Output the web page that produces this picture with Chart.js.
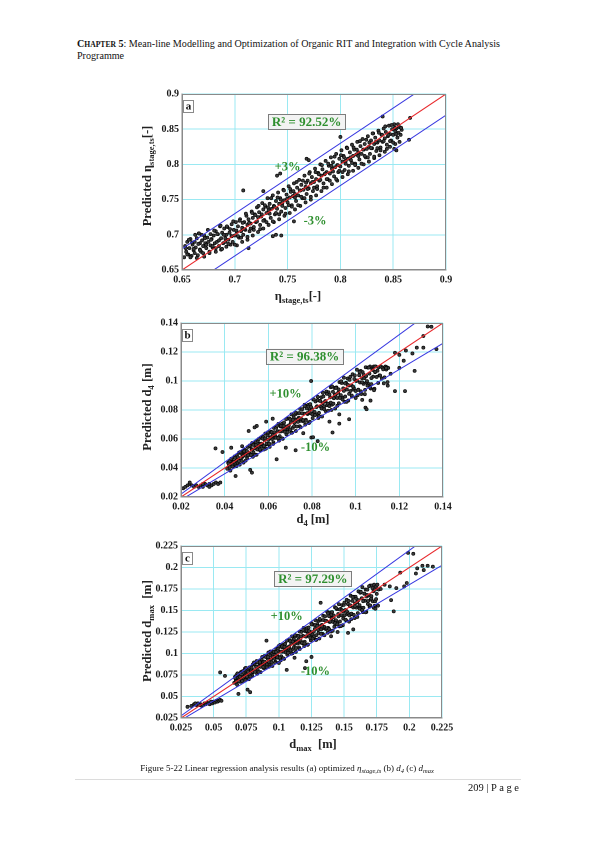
<!DOCTYPE html>
<html><head><meta charset="utf-8">
<script src="https://cdn.jsdelivr.net/npm/chart.js@4.4.1/dist/chart.umd.min.js"></script>
<style>
html,body{margin:0;padding:0;background:#fff;}
body{width:595px;height:842px;position:relative;overflow:hidden;font-family:"Liberation Serif","Times New Roman",serif;color:#111;}
.abs{position:absolute;white-space:nowrap;}
.box{position:absolute;}
.ttl{position:absolute;white-space:nowrap;font-weight:bold;font-size:12.5px;line-height:14px;transform:translate(-50%,-50%);color:#222;}
.rot{transform:translate(-50%,-50%) rotate(-90deg);}
.sb{font-size:8.5px;position:relative;top:3px;}
.cs{font-size:6.5px;position:relative;top:2px;}
</style>
</head><body>

<div class="abs" style="left:77px;top:38px;font-size:10.1px;line-height:11px;">
<b>C<span style="font-size:7.6px">HAPTER</span> 5</b>: Mean-line Modelling and Optimization of Organic RIT and Integration with Cycle Analysis<br>Programme</div>

<div class="box" style="left:125px;top:85px;width:340px;height:222px;"><canvas id="ca" width="340" height="222"></canvas></div>
<div class="box" style="left:125px;top:314px;width:340px;height:222px;"><canvas id="cb" width="340" height="222"></canvas></div>
<div class="box" style="left:125px;top:537px;width:340px;height:222px;"><canvas id="cc" width="340" height="222"></canvas></div>

<div class="ttl rot" style="left:147px;top:176px;">Predicted η<span class="sb">stage,ts</span>[-]</div>
<div class="ttl" style="left:298px;top:296px;">η<span class="sb">stage,ts</span>[-]</div>
<div class="ttl rot" style="left:147px;top:407px;">Predicted d<span class="sb">4</span> [m]</div>
<div class="ttl" style="left:313px;top:519px;">d<span class="sb">4</span> [m]</div>
<div class="ttl rot" style="left:147px;top:631px;">Predicted d<span class="sb">max</span> &nbsp;[m]</div>
<div class="ttl" style="left:313px;top:744px;">d<span class="sb">max</span> &nbsp;[m]</div>

<div class="abs" style="left:287px;top:768px;transform:translate(-50%,-50%);font-size:9px;">Figure 5-22 Linear regression analysis results (a) optimized <i>η<span class="cs">stage,ts</span></i> (b) <i>d<span class="cs">4</span></i> (c) <i>d<span class="cs">max</span></i></div>
<div class="abs" style="left:75px;top:779px;width:446px;height:1px;background:#dcdcdc;"></div>
<div class="abs" style="right:76px;top:782px;font-size:10.5px;">209 | P a g e</div>

<script>
// ---------- DATA ----------
// Panel (a): [actual eta_stage,ts, predicted eta_stage,ts]
const aPairs = [
[0.652,0.668],[0.653,0.684],[0.654,0.676],[0.655,0.690],[0.656,0.672],[0.657,0.681],
[0.658,0.694],[0.659,0.670],[0.660,0.686],[0.661,0.678],[0.662,0.690],[0.662,0.674],
[0.663,0.682],[0.664,0.695],[0.665,0.671],[0.666,0.702],[0.667,0.688],[0.667,0.679],
[0.668,0.676],[0.669,0.692],[0.670,0.684],[0.671,0.699],[0.671,0.669],[0.672,0.688],
[0.673,0.681],[0.674,0.696],[0.675,0.690],[0.676,0.676],[0.677,0.701],[0.677,0.685],
[0.678,0.694],[0.679,0.682],[0.680,0.699],[0.681,0.688],[0.682,0.676],[0.682,0.705],
[0.683,0.690],[0.684,0.701],[0.685,0.684],[0.686,0.712],[0.687,0.695],[0.687,0.679],
[0.688,0.703],[0.689,0.688],[0.690,0.709],[0.691,0.695],[0.692,0.683],[0.692,0.700],
[0.693,0.711],[0.694,0.693],[0.695,0.703],[0.696,0.686],[0.697,0.715],[0.697,0.698],
[0.698,0.690],[0.699,0.707],[0.700,0.699],[0.701,0.718],[0.702,0.685],[0.702,0.704],
[0.703,0.712],[0.704,0.696],[0.705,0.722],[0.706,0.705],[0.707,0.690],[0.707,0.710],
[0.708,0.700],[0.709,0.718],[0.710,0.707],[0.711,0.727],[0.712,0.693],[0.712,0.714],
[0.713,0.722],[0.714,0.705],[0.715,0.716],[0.716,0.733],[0.717,0.699],[0.717,0.724],
[0.718,0.711],[0.719,0.729],[0.720,0.718],[0.721,0.739],[0.722,0.704],[0.722,0.725],
[0.723,0.732],[0.724,0.714],[0.725,0.726],[0.726,0.745],[0.727,0.709],[0.727,0.736],
[0.728,0.721],[0.729,0.740],[0.730,0.731],[0.731,0.752],[0.732,0.714],[0.732,0.735],
[0.733,0.744],[0.734,0.724],[0.735,0.737],[0.736,0.756],[0.737,0.718],[0.737,0.741],
[0.738,0.729],[0.739,0.748],[0.740,0.737],[0.741,0.760],[0.742,0.722],[0.742,0.744],
[0.743,0.752],[0.744,0.733],[0.745,0.745],[0.746,0.764],[0.747,0.727],[0.747,0.749],
[0.748,0.738],[0.749,0.757],[0.750,0.746],[0.751,0.769],[0.752,0.731],[0.752,0.753],
[0.753,0.761],[0.754,0.742],[0.755,0.755],[0.756,0.773],[0.757,0.736],[0.757,0.758],
[0.758,0.748],[0.759,0.767],[0.760,0.756],[0.761,0.778],[0.762,0.741],[0.762,0.763],
[0.763,0.771],[0.764,0.752],[0.765,0.764],[0.766,0.784],[0.767,0.746],[0.767,0.768],
[0.768,0.758],[0.769,0.777],[0.770,0.766],[0.771,0.789],[0.772,0.750],[0.772,0.773],
[0.773,0.782],[0.774,0.762],[0.775,0.775],[0.776,0.794],[0.777,0.756],[0.777,0.779],
[0.778,0.769],[0.779,0.788],[0.780,0.777],[0.781,0.800],[0.782,0.762],[0.782,0.784],
[0.783,0.793],[0.784,0.773],[0.785,0.786],[0.786,0.805],[0.787,0.767],[0.787,0.789],
[0.788,0.779],[0.789,0.798],[0.790,0.787],[0.791,0.810],[0.792,0.772],[0.792,0.794],
[0.793,0.803],[0.794,0.783],[0.795,0.796],[0.796,0.815],[0.797,0.777],[0.797,0.799],
[0.798,0.789],[0.799,0.808],[0.800,0.797],[0.801,0.820],[0.802,0.782],[0.802,0.804],
[0.803,0.812],[0.804,0.792],[0.805,0.805],[0.806,0.824],[0.807,0.786],[0.807,0.808],
[0.808,0.798],[0.809,0.817],[0.810,0.806],[0.811,0.828],[0.812,0.791],[0.812,0.812],
[0.813,0.821],[0.814,0.801],[0.815,0.814],[0.816,0.832],[0.817,0.795],[0.817,0.817],
[0.818,0.807],[0.819,0.826],[0.820,0.815],[0.821,0.836],[0.822,0.800],[0.822,0.821],
[0.823,0.829],[0.824,0.810],[0.825,0.822],[0.826,0.840],[0.827,0.804],[0.827,0.825],
[0.828,0.815],[0.829,0.834],[0.830,0.823],[0.831,0.844],[0.832,0.809],[0.832,0.829],
[0.833,0.838],[0.834,0.819],[0.835,0.831],[0.836,0.848],[0.837,0.813],[0.837,0.834],
[0.838,0.824],[0.839,0.842],[0.840,0.832],[0.841,0.851],[0.842,0.818],[0.842,0.837],
[0.843,0.846],[0.844,0.828],[0.845,0.840],[0.846,0.855],[0.847,0.825],[0.847,0.843],
[0.848,0.834],[0.849,0.850],[0.850,0.842],[0.851,0.857],[0.852,0.829],[0.852,0.847],
[0.853,0.851],[0.854,0.838],[0.855,0.845],[0.856,0.853],[0.857,0.842],[0.858,0.849],
[0.6535,0.681],[0.6550,0.672],[0.6565,0.693],[0.6580,0.668],[0.6595,0.689],[0.6610,0.680],[0.6625,0.700],[0.6640,0.667],
[0.6655,0.687],[0.6670,0.678],[0.6685,0.700],[0.6700,0.674],[0.6715,0.695],[0.6730,0.686],[0.6745,0.707],[0.6760,0.674],
[0.6775,0.693],[0.6790,0.684],[0.6805,0.706],[0.6820,0.681],[0.6835,0.701],[0.6850,0.692],[0.6865,0.713],[0.6880,0.680],
[0.6895,0.700],[0.6910,0.690],[0.6925,0.712],[0.6940,0.687],[0.6955,0.708],[0.6970,0.698],[0.6985,0.719],[0.7000,0.686],
[0.7015,0.706],[0.7030,0.698],[0.7045,0.720],[0.7060,0.696],[0.7075,0.717],[0.7090,0.708],[0.7105,0.730],[0.7120,0.697],
[0.7135,0.717],[0.7150,0.709],[0.7165,0.731],[0.7180,0.707],[0.7195,0.728],[0.7210,0.719],[0.7225,0.741],[0.7240,0.708],
[0.7255,0.729],[0.7270,0.720],[0.7285,0.742],[0.7300,0.718],[0.7315,0.739],[0.7330,0.730],[0.7345,0.752],[0.7360,0.719],
[0.7375,0.740],[0.7390,0.731],[0.7405,0.753],[0.7420,0.729],[0.7435,0.750],[0.7450,0.741],[0.7465,0.763],[0.7480,0.730],
[0.7495,0.751],[0.7510,0.742],[0.7525,0.765],[0.7540,0.740],[0.7555,0.762],[0.7570,0.753],[0.7585,0.775],[0.7600,0.742],
[0.7615,0.763],[0.7630,0.754],[0.7645,0.777],[0.7660,0.752],[0.7675,0.774],[0.7690,0.765],[0.7705,0.787],[0.7720,0.754],
[0.7735,0.775],[0.7750,0.767],[0.7765,0.789],[0.7780,0.765],[0.7795,0.786],[0.7810,0.778],[0.7825,0.799],[0.7840,0.767],
[0.7855,0.787],[0.7870,0.779],[0.7885,0.801],[0.7900,0.777],[0.7915,0.798],[0.7930,0.790],[0.7945,0.811],[0.7960,0.779],
[0.7975,0.799],[0.7990,0.791],[0.8005,0.813],[0.8020,0.789],[0.8035,0.810],[0.8050,0.801],[0.8065,0.823],[0.8080,0.790],
[0.8095,0.810],[0.8110,0.802],[0.8125,0.824],[0.8140,0.799],[0.8155,0.821],[0.8170,0.812],[0.8185,0.833],[0.8200,0.801],
[0.8215,0.821],[0.8230,0.812],[0.8245,0.835],[0.8260,0.810],[0.8275,0.831],[0.8290,0.823],[0.8305,0.844],[0.8320,0.811],
[0.8335,0.832],[0.8350,0.823],[0.8365,0.845],[0.8380,0.820],[0.8395,0.842],[0.8410,0.833],[0.8425,0.854],[0.8440,0.822],
[0.8455,0.842],[0.8470,0.833],[0.8485,0.856],[0.8500,0.831],[0.8515,0.852],[0.8530,0.843],[0.8545,0.857],[0.8560,0.832],
[0.8575,0.852],
[0.708,0.763],[0.740,0.784],[0.743,0.787],[0.768,0.808],[0.770,0.806],[0.840,0.868],
[0.866,0.866],[0.865,0.835],[0.853,0.820],[0.851,0.822],[0.736,0.698],[0.739,0.700],
[0.744,0.699],[0.713,0.681],[0.756,0.719],[0.727,0.762],[0.800,0.839],[0.666,0.702]
];
// Panel (b): [actual d4, predicted d4]
const bPairs = [
[0.021,0.026],[0.022,0.027],[0.023,0.028],[0.024,0.029],[0.025,0.028],[0.026,0.027],[0.027,0.028],
[0.028,0.027],[0.029,0.028],[0.030,0.027],[0.031,0.029],[0.032,0.028],[0.033,0.029],[0.034,0.028],
[0.035,0.029],[0.036,0.030],[0.037,0.029],[0.038,0.030],[0.024,0.030],[0.030,0.029],[0.033,0.027],
[0.0412,0.0395],[0.0416,0.0437],[0.0420,0.0416],[0.0423,0.0449],[0.0426,0.0382],[0.0429,0.0428],
[0.0432,0.0462],[0.0436,0.0427],[0.0440,0.0444],[0.0443,0.0409],[0.0446,0.0480],[0.0449,0.0431],
[0.0452,0.0446],[0.0456,0.0488],[0.0460,0.0437],[0.0463,0.0469],[0.0466,0.0506],[0.0469,0.0423],
[0.0472,0.0451],[0.0476,0.0499],[0.0480,0.0475],[0.0483,0.0514],[0.0486,0.0437],[0.0489,0.0490],
[0.0492,0.0525],[0.0496,0.0485],[0.0500,0.0505],[0.0503,0.0465],[0.0506,0.0545],[0.0509,0.0490],
[0.0512,0.0504],[0.0516,0.0551],[0.0520,0.0494],[0.0523,0.0530],[0.0526,0.0572],[0.0529,0.0478],
[0.0532,0.0508],[0.0536,0.0562],[0.0540,0.0535],[0.0543,0.0578],[0.0546,0.0491],[0.0549,0.0551],
[0.0552,0.0588],[0.0556,0.0543],[0.0560,0.0566],[0.0563,0.0521],[0.0566,0.0610],[0.0569,0.0549],
[0.0572,0.0563],[0.0576,0.0615],[0.0580,0.0551],[0.0583,0.0592],[0.0586,0.0638],[0.0589,0.0534],
[0.0592,0.0564],[0.0596,0.0624],[0.0600,0.0594],[0.0603,0.0642],[0.0606,0.0546],[0.0609,0.0612],
[0.0612,0.0651],[0.0616,0.0601],[0.0620,0.0626],[0.0623,0.0577],[0.0626,0.0676],[0.0629,0.0608],
[0.0632,0.0621],[0.0636,0.0678],[0.0640,0.0608],[0.0643,0.0653],[0.0646,0.0704],[0.0649,0.0589],
[0.0652,0.0620],[0.0656,0.0686],[0.0660,0.0653],[0.0663,0.0706],[0.0666,0.0601],[0.0669,0.0673],
[0.0672,0.0714],[0.0676,0.0660],[0.0680,0.0687],[0.0683,0.0632],[0.0686,0.0741],[0.0689,0.0666],
[0.0692,0.0679],[0.0696,0.0742],[0.0700,0.0665],[0.0703,0.0714],[0.0706,0.0770],[0.0709,0.0644],
[0.0712,0.0677],[0.0716,0.0749],[0.0720,0.0713],[0.0723,0.0770],[0.0726,0.0655],[0.0729,0.0734],
[0.0732,0.0777],[0.0736,0.0718],[0.0740,0.0747],[0.0743,0.0688],[0.0746,0.0807],[0.0749,0.0725],
[0.0752,0.0737],[0.0756,0.0806],[0.0760,0.0722],[0.0763,0.0775],[0.0766,0.0836],[0.0769,0.0699],
[0.0772,0.0733],[0.0776,0.0811],[0.0780,0.0772],[0.0783,0.0835],[0.0786,0.0710],[0.0789,0.0796],
[0.0792,0.0840],[0.0796,0.0776],[0.0800,0.0808],[0.0803,0.0744],[0.0806,0.0872],[0.0809,0.0784],
[0.0812,0.0786],[0.0816,0.0859],[0.0820,0.0770],[0.0823,0.0826],[0.0826,0.0891],[0.0829,0.0745],
[0.0832,0.0780],[0.0836,0.0863],[0.0840,0.0822],[0.0843,0.0888],[0.0846,0.0755],[0.0849,0.0847],
[0.0852,0.0893],[0.0856,0.0825],[0.0860,0.0859],[0.0863,0.0791],[0.0866,0.0927],[0.0869,0.0833],
[0.0872,0.0844],[0.0876,0.0922],[0.0880,0.0827],[0.0883,0.0887],[0.0886,0.0957],[0.0889,0.0800],
[0.0892,0.0837],[0.0896,0.0926],[0.0900,0.0881],[0.0903,0.0952],[0.0906,0.0810],[0.0909,0.0908],
[0.0912,0.0956],[0.0916,0.0883],[0.0920,0.0919],[0.0923,0.0846],[0.0926,0.0992],[0.0929,0.0892],
[0.0932,0.0902],[0.0936,0.0986],[0.0940,0.0884],[0.0943,0.0949],[0.0946,0.1023],[0.0949,0.0856],
[0.0952,0.0893],[0.0956,0.0988],[0.0960,0.0941],[0.0963,0.1017],[0.0966,0.0865],[0.0969,0.0969],
[0.0972,0.1008],[0.0976,0.0931],[0.0980,0.0970],[0.0983,0.0893],[0.0986,0.1046],[0.0989,0.0941],
[0.0992,0.0951],[0.0996,0.1039],[0.1000,0.0931],[0.1003,0.1000],[0.1006,0.1078],[0.1009,0.0902],
[0.1012,0.0940],[0.1016,0.1040],[0.1020,0.0990],[0.1023,0.1070],[0.1026,0.0910],[0.1029,0.1020],
[0.1032,0.1061],[0.1036,0.0980],[0.1040,0.1020],[0.1043,0.0939],[0.1046,0.1095],[0.1049,0.0990],
[0.1052,0.0999],[0.1056,0.1092],[0.1060,0.0979],[0.1063,0.1051],[0.1066,0.1100],[0.1069,0.0948],
[0.1072,0.0978],[0.1076,0.1082],[0.1080,0.1030],[0.1083,0.1100],[0.1086,0.0946],[0.1089,0.1061],
[0.1092,0.1100],[0.1096,0.1028],[0.1100,0.1071],[0.1103,0.0986],[0.1106,0.1095],[0.1109,0.1039],
[0.1112,0.1038],[0.1116,0.1100],[0.1120,0.1017],[0.1123,0.1091],[0.1126,0.1080],[0.1129,0.0984],
[0.1132,0.1025],[0.1136,0.1100],[0.1140,0.1079],[0.1143,0.1095],[0.1146,0.0992],[0.1149,0.1090],
[0.0418,0.0431],[0.0424,0.0407],[0.0430,0.0464],[0.0436,0.0410],[0.0442,0.0442],[0.0448,0.0470],[0.0454,0.0413],
[0.0460,0.0474],[0.0466,0.0447],[0.0472,0.0510],[0.0478,0.0449],[0.0484,0.0484],[0.0490,0.0515],[0.0496,0.0451],
[0.0502,0.0517],[0.0508,0.0488],[0.0514,0.0555],[0.0520,0.0489],[0.0526,0.0526],[0.0532,0.0559],[0.0538,0.0490],
[0.0544,0.0560],[0.0550,0.0528],[0.0556,0.0600],[0.0562,0.0528],[0.0568,0.0568],[0.0574,0.0603],[0.0580,0.0528],
[0.0586,0.0604],[0.0592,0.0568],[0.0598,0.0646],[0.0604,0.0568],[0.0610,0.0610],[0.0616,0.0647],[0.0622,0.0566],
[0.0628,0.0647],[0.0634,0.0609],[0.0640,0.0691],[0.0646,0.0607],[0.0652,0.0652],[0.0658,0.0691],[0.0664,0.0604],
[0.0670,0.0690],[0.0676,0.0649],[0.0682,0.0737],[0.0688,0.0647],[0.0694,0.0694],[0.0700,0.0735],[0.0706,0.0642],
[0.0712,0.0733],[0.0718,0.0689],[0.0724,0.0782],[0.0730,0.0686],[0.0736,0.0736],[0.0742,0.0779],[0.0748,0.0681],
[0.0754,0.0777],[0.0760,0.0730],[0.0766,0.0827],[0.0772,0.0726],[0.0778,0.0778],[0.0784,0.0823],[0.0790,0.0719],
[0.0796,0.0820],[0.0802,0.0770],[0.0808,0.0873],[0.0814,0.0765],[0.0820,0.0820],[0.0826,0.0867],[0.0832,0.0757],
[0.0838,0.0863],[0.0844,0.0810],[0.0850,0.0918],[0.0856,0.0805],[0.0862,0.0862],[0.0868,0.0911],[0.0874,0.0795],
[0.0880,0.0906],[0.0886,0.0851],[0.0892,0.0963],[0.0898,0.0844],[0.0904,0.0903],[0.0910,0.0952],[0.0916,0.0829],
[0.0922,0.0942],[0.0928,0.0883],[0.0934,0.0998],[0.0940,0.0872],[0.0946,0.0932],[0.0952,0.0983],[0.0958,0.0856],
[0.0964,0.0973],[0.0970,0.0911],[0.0976,0.1029],[0.0982,0.0900],[0.0988,0.0962],[0.0994,0.1014],[0.1000,0.0883],
[0.1006,0.1003],[0.1012,0.0939],[0.1018,0.1062],[0.1024,0.0928],[0.1030,0.0991],[0.1036,0.1045],[0.1042,0.0909],
[0.1048,0.1034],[0.1054,0.0968],[0.1060,0.1093],[0.1066,0.0955],[0.1072,0.1020],[0.1078,0.1076],[0.1084,0.0936],
[0.1090,0.1064],
[0.0358,0.0535],[0.0390,0.0510],[0.0430,0.0540],[0.0480,0.0550],[0.0547,0.0690],[0.0537,0.0680],
[0.0510,0.0655],[0.0638,0.0460],[0.0450,0.0345],[0.0517,0.0387],[0.0525,0.0368],[0.0796,0.1000],
[0.0725,0.0522],[0.0797,0.0610],[0.0805,0.0612],[0.0826,0.0585],[0.0894,0.0645],[0.0925,0.0706],
[0.0925,0.0770],[0.0970,0.0736],[0.1030,0.0870],[0.1045,0.0816],[0.1050,0.0805],[0.1068,0.0865],
[0.1147,0.0968],[0.1180,0.0930],[0.1226,0.0930],[0.1180,0.1195],[0.1200,0.1180],[0.1230,0.1210],
[0.1260,0.1190],[0.1280,0.1230],[0.1310,0.1230],[0.1310,0.1310],[0.1330,0.1376],[0.1347,0.1374],
[0.1370,0.1220],[0.1220,0.1140],[0.1270,0.1070],[0.1160,0.1050],[0.1200,0.1090],[0.1090,0.1100],
[0.1140,0.1090],[0.0880,0.0720],[0.0760,0.0640],[0.0680,0.0540],[0.0620,0.0740],[0.0590,0.0720]
];
// Panel (c): [actual dmax, predicted dmax]
const cPairs = [
[0.030,0.038],[0.033,0.039],[0.035,0.041],[0.037,0.040],[0.038,0.042],[0.040,0.041],[0.041,0.039],
[0.042,0.040],[0.043,0.042],[0.044,0.041],[0.045,0.043],[0.046,0.042],[0.047,0.041],[0.048,0.043],
[0.049,0.042],[0.050,0.044],[0.051,0.043],[0.052,0.045],[0.053,0.044],[0.054,0.045],[0.055,0.046],
[0.056,0.045],[0.036,0.042],[0.039,0.040],[0.048,0.044],
[0.0658,0.0658],[0.0664,0.0728],[0.0670,0.0693],[0.0675,0.0749],[0.0680,0.0637],[0.0684,0.0714],
[0.0688,0.0756],[0.0694,0.0698],[0.0700,0.0727],[0.0705,0.0670],[0.0710,0.0785],[0.0714,0.0706],
[0.0718,0.0728],[0.0724,0.0795],[0.0730,0.0713],[0.0735,0.0765],[0.0740,0.0825],[0.0744,0.0690],
[0.0748,0.0724],[0.0754,0.0801],[0.0760,0.0762],[0.0765,0.0824],[0.0770,0.0701],[0.0774,0.0785],
[0.0778,0.0840],[0.0784,0.0776],[0.0790,0.0808],[0.0795,0.0744],[0.0800,0.0872],[0.0804,0.0784],
[0.0808,0.0805],[0.0814,0.0880],[0.0820,0.0789],[0.0825,0.0847],[0.0830,0.0913],[0.0834,0.0764],
[0.0838,0.0808],[0.0844,0.0894],[0.0850,0.0851],[0.0855,0.0920],[0.0860,0.0783],[0.0864,0.0877],
[0.0868,0.0935],[0.0874,0.0863],[0.0880,0.0899],[0.0885,0.0828],[0.0890,0.0970],[0.0894,0.0872],
[0.0898,0.0892],[0.0904,0.0975],[0.0910,0.0874],[0.0915,0.0938],[0.0920,0.1012],[0.0924,0.0846],
[0.0928,0.0884],[0.0934,0.0978],[0.0940,0.0931],[0.0945,0.1006],[0.0950,0.0855],[0.0954,0.0959],
[0.0958,0.1019],[0.0964,0.0941],[0.0970,0.0980],[0.0975,0.0902],[0.0980,0.1057],[0.0984,0.0951],
[0.0988,0.0970],[0.0994,0.1060],[0.1000,0.0950],[0.1005,0.1020],[0.1010,0.1100],[0.1014,0.0920],
[0.1018,0.0968],[0.1024,0.1071],[0.1030,0.1020],[0.1035,0.1102],[0.1040,0.0937],[0.1044,0.1051],
[0.1048,0.1113],[0.1054,0.1028],[0.1060,0.1071],[0.1065,0.0986],[0.1070,0.1155],[0.1074,0.1039],
[0.1078,0.1057],[0.1084,0.1155],[0.1090,0.1036],[0.1095,0.1112],[0.1100,0.1199],[0.1104,0.1003],
[0.1108,0.1053],[0.1114,0.1165],[0.1120,0.1109],[0.1125,0.1198],[0.1130,0.1019],[0.1134,0.1142],
[0.1138,0.1208],[0.1144,0.1116],[0.1150,0.1162],[0.1155,0.1070],[0.1160,0.1254],[0.1164,0.1127],
[0.1168,0.1145],[0.1174,0.1251],[0.1180,0.1121],[0.1185,0.1204],[0.1190,0.1298],[0.1194,0.1086],
[0.1198,0.1137],[0.1204,0.1258],[0.1210,0.1198],[0.1215,0.1295],[0.1220,0.1101],[0.1224,0.1234],
[0.1228,0.1302],[0.1234,0.1203],[0.1240,0.1252],[0.1245,0.1153],[0.1250,0.1352],[0.1254,0.1215],
[0.1258,0.1222],[0.1264,0.1336],[0.1270,0.1197],[0.1275,0.1285],[0.1280,0.1386],[0.1284,0.1159],
[0.1288,0.1213],[0.1294,0.1342],[0.1300,0.1277],[0.1305,0.1380],[0.1310,0.1174],[0.1314,0.1316],
[0.1318,0.1386],[0.1324,0.1280],[0.1330,0.1333],[0.1335,0.1228],[0.1340,0.1439],[0.1344,0.1294],
[0.1348,0.1310],[0.1354,0.1431],[0.1360,0.1283],[0.1365,0.1377],[0.1370,0.1485],[0.1374,0.1242],
[0.1378,0.1297],[0.1384,0.1435],[0.1390,0.1366],[0.1395,0.1477],[0.1400,0.1256],[0.1404,0.1408],
[0.1408,0.1481],[0.1414,0.1368],[0.1420,0.1424],[0.1425,0.1311],[0.1430,0.1537],[0.1434,0.1382],
[0.1438,0.1387],[0.1444,0.1516],[0.1450,0.1359],[0.1455,0.1459],[0.1460,0.1573],[0.1464,0.1316],
[0.1468,0.1372],[0.1474,0.1518],[0.1480,0.1445],[0.1485,0.1562],[0.1490,0.1329],[0.1494,0.1489],
[0.1498,0.1565],[0.1504,0.1445],[0.1510,0.1505],[0.1515,0.1386],[0.1520,0.1624],[0.1524,0.1460],
[0.1528,0.1474],[0.1534,0.1611],[0.1540,0.1444],[0.1545,0.1550],[0.1550,0.1672],[0.1554,0.1398],
[0.1558,0.1457],[0.1564,0.1612],[0.1570,0.1535],[0.1575,0.1659],[0.1580,0.1411],[0.1584,0.1581],
[0.1588,0.1659],[0.1594,0.1533],[0.1600,0.1596],[0.1605,0.1469],[0.1610,0.1722],[0.1614,0.1548],
[0.1618,0.1562],[0.1624,0.1707],[0.1630,0.1530],[0.1635,0.1642],[0.1640,0.1771],[0.1644,0.1481],
[0.1648,0.1532],[0.1654,0.1695],[0.1660,0.1614],[0.1665,0.1744],[0.1670,0.1483],[0.1674,0.1663],
[0.1678,0.1743],[0.1684,0.1610],[0.1690,0.1677],[0.1695,0.1544],[0.1700,0.1790],[0.1704,0.1627],
[0.1708,0.1639],[0.1714,0.1791],[0.1720,0.1606],[0.1725,0.1724],[0.1730,0.1800],[0.1734,0.1555],
[0.1738,0.1607],[0.1744,0.1778],[0.1750,0.1693],[0.1755,0.1800],[0.1760,0.1556],[0.1764,0.1744],
[0.0665,0.0716],[0.0674,0.0676],[0.0683,0.0769],[0.0692,0.0678],[0.0701,0.0729],[0.0710,0.0774],[0.0719,0.0679],
[0.0728,0.0777],[0.0737,0.0732],[0.0746,0.0833],[0.0755,0.0732],[0.0764,0.0788],[0.0773,0.0836],[0.0782,0.0732],
[0.0791,0.0837],[0.0800,0.0788],[0.0809,0.0895],[0.0818,0.0788],[0.0827,0.0846],[0.0836,0.0897],[0.0845,0.0785],
[0.0854,0.0897],[0.0863,0.0845],[0.0872,0.0959],[0.0881,0.0842],[0.0890,0.0905],[0.0899,0.0959],[0.0908,0.0838],
[0.0917,0.0958],[0.0926,0.0900],[0.0935,0.1023],[0.0944,0.0898],[0.0953,0.0963],[0.0962,0.1021],[0.0971,0.0892],
[0.0980,0.1018],[0.0989,0.0957],[0.0998,0.1085],[0.1007,0.0953],[0.1016,0.1022],[0.1025,0.1082],[0.1034,0.0945],
[0.1043,0.1078],[0.1052,0.1013],[0.1061,0.1149],[0.1070,0.1008],[0.1079,0.1081],[0.1088,0.1143],[0.1097,0.0998],
[0.1106,0.1139],[0.1115,0.1069],[0.1124,0.1212],[0.1133,0.1063],[0.1142,0.1139],[0.1151,0.1204],[0.1160,0.1052],
[0.1169,0.1199],[0.1178,0.1126],[0.1187,0.1275],[0.1196,0.1118],[0.1205,0.1198],[0.1214,0.1266],[0.1223,0.1105],
[0.1232,0.1260],[0.1241,0.1182],[0.1250,0.1339],[0.1259,0.1173],[0.1268,0.1256],[0.1277,0.1328],[0.1286,0.1158],
[0.1295,0.1319],[0.1304,0.1238],[0.1313,0.1402],[0.1322,0.1228],[0.1331,0.1315],[0.1340,0.1389],[0.1349,0.1212],
[0.1358,0.1380],[0.1367,0.1294],[0.1376,0.1466],[0.1385,0.1283],[0.1394,0.1373],[0.1403,0.1451],[0.1412,0.1265],
[0.1421,0.1441],[0.1430,0.1351],[0.1439,0.1528],[0.1448,0.1339],[0.1457,0.1432],[0.1466,0.1512],[0.1475,0.1319],
[0.1484,0.1501],[0.1493,0.1407],[0.1502,0.1592],[0.1511,0.1393],[0.1520,0.1491],[0.1529,0.1574],[0.1538,0.1371],
[0.1547,0.1561],[0.1556,0.1463],[0.1565,0.1656],[0.1574,0.1449],[0.1583,0.1549],[0.1592,0.1636],[0.1601,0.1425],
[0.1610,0.1621],[0.1619,0.1520],[0.1628,0.1718],[0.1637,0.1504],[0.1646,0.1608],[0.1655,0.1697],[0.1664,0.1479],
[0.1673,0.1682],[0.1682,0.1575],[0.1691,0.1782],[0.1700,0.1559],[0.1709,0.1667],[0.1718,0.1759],[0.1727,0.1532],
[0.1736,0.1743],[0.1745,0.1632],
[0.055,0.078],[0.0587,0.074],[0.069,0.053],[0.076,0.058],[0.078,0.055],[0.0905,0.115],
[0.106,0.081],[0.121,0.091],[0.125,0.096],[0.132,0.159],[0.153,0.124],[0.157,0.128],
[0.174,0.152],[0.188,0.149],[0.186,0.162],[0.193,0.194],[0.198,0.182],[0.196,0.178],
[0.199,0.217],[0.203,0.216],[0.205,0.193],[0.206,0.199],[0.210,0.202],[0.214,0.202],
[0.218,0.201],[0.211,0.197],[0.181,0.180],[0.185,0.178],[0.190,0.176],[0.178,0.175],
[0.120,0.083],[0.140,0.120],[0.145,0.125],[0.100,0.089],[0.112,0.095]
];
// Tick values
const aTicks = [0.65, 0.7, 0.75, 0.8, 0.85, 0.9];
const bTicks = [0.02, 0.04, 0.06, 0.08, 0.1, 0.12, 0.14];
const cTicks = [0.025, 0.05, 0.075, 0.1, 0.125, 0.15, 0.175, 0.2, 0.225];
// Panel texts
const aR2 = 'R² = 92.52%', bR2 = 'R² = 96.38%', cR2 = 'R² = 97.29%';
const aBandLabels = ['+3%', '-3%'];
const bBandLabels = ['+10%', '-10%'];
const cBandLabels = ['+10%', '-10%'];
// Error bands: (a) absolute ±0.03, (b),(c) relative ±10%
const aBand = {type: 'abs', value: 0.03};
const bBand = {type: 'rel', value: 0.10};
const cBand = {type: 'rel', value: 0.10};

// ---------- DRAWING ----------
const SERIF = '"Liberation Serif","Times New Roman",serif';
const GREEN = '#2e8f2e';
function fmt(v){ return String(Number(v.toFixed(4))); }

const annot = {
  id: 'annot',
  afterDatasetsDraw(chart, args, o) {
    const ctx = chart.ctx, a = chart.chartArea, xs = chart.scales.x, ys = chart.scales.y;
    ctx.save();
    ctx.strokeStyle = '#8a8a8a'; ctx.lineWidth = 1;
    ctx.strokeRect(a.left + 0.5, a.top + 0.5, a.right - a.left - 1, a.bottom - a.top - 1);
    // panel letter
    ctx.fillStyle = '#fff'; ctx.strokeStyle = '#8a8a8a';
    ctx.fillRect(a.left + 1.5, a.top + 6.5, 10, 12);
    ctx.strokeRect(a.left + 1.5, a.top + 6.5, 10, 12);
    ctx.fillStyle = '#111'; ctx.font = 'bold 11px ' + SERIF;
    ctx.textAlign = 'center'; ctx.textBaseline = 'middle';
    ctx.fillText(o.letter, a.left + 6.5, a.top + 12.5);
    // R2 box
    ctx.font = 'bold 13px ' + SERIF;
    const w = ctx.measureText(o.r2).width + 8, h = 15;
    const cx = xs.getPixelForValue(o.r2Pos[0]), cy = ys.getPixelForValue(o.r2Pos[1]);
    ctx.fillStyle = '#f3f3f3'; ctx.fillRect(cx - w/2, cy - h/2, w, h);
    ctx.strokeStyle = '#7d7d7d'; ctx.strokeRect(Math.round(cx - w/2) + 0.5, Math.round(cy - h/2) + 0.5, Math.round(w), h);
    ctx.fillStyle = GREEN; ctx.fillText(o.r2, cx, cy + 1);
    // band labels
    ctx.font = 'bold 12.5px ' + SERIF;
    ctx.fillText(o.bands[0], xs.getPixelForValue(o.plusPos[0]), ys.getPixelForValue(o.plusPos[1]));
    ctx.fillText(o.bands[1], xs.getPixelForValue(o.minusPos[0]), ys.getPixelForValue(o.minusPos[1]));
    ctx.restore();
  }
};

function bandY(band, x, sign){
  return band.type === 'abs' ? x + sign * band.value : x * (1 + sign * band.value);
}

function makeChart(id, pairs, ticks, band, ann, lay) {
  const lo = ticks[0], hi = ticks[ticks.length - 1];
  const ends = [lo, hi];
  const scaleCommon = (isX) => ({
    type: 'linear', min: lo, max: hi,
    afterBuildTicks: s => { s.ticks = ticks.map(v => ({value: v})); },
    ticks: { callback: v => fmt(v), autoSkip: false, maxRotation: 0, color: '#1a1a1a',
             font: {family: SERIF, size: 10, weight: 'bold'}, padding: isX ? 4 : 3 },
    grid: { color: '#9ae9f2', lineWidth: 1, drawTicks: false },
    border: { display: true, color: '#8a8a8a' },
    afterFit: s => { if (isX) s.height = lay.xh; else s.width = lay.yw; }
  });
  return new Chart(document.getElementById(id), {
    type: 'scatter',
    data: { datasets: [
      { data: ends.map(v => ({x: v, y: v})), showLine: true, borderColor: '#e8262a', borderWidth: 1.1, pointRadius: 0 },
      { data: ends.map(v => ({x: v, y: bandY(band, v, 1)})), showLine: true, borderColor: '#3535e0', borderWidth: 1, pointRadius: 0 },
      { data: ends.map(v => ({x: v, y: bandY(band, v, -1)})), showLine: true, borderColor: '#3535e0', borderWidth: 1, pointRadius: 0 },
      { data: pairs.map(p => ({x: p[0], y: p[1]})), pointRadius: 1.6, pointBackgroundColor: '#3a3a3a',
        pointBorderColor: '#000', pointBorderWidth: 0.6 }
    ]},
    options: {
      responsive: false, animation: false, devicePixelRatio: 2,
      layout: { padding: { top: lay.top, right: lay.right, left: 0, bottom: 0 } },
      plugins: { legend: {display: false}, tooltip: {enabled: false}, annot: ann },
      scales: { x: scaleCommon(true), y: scaleCommon(false) }
    },
    plugins: [annot]
  });
}

makeChart('ca', aPairs, aTicks, aBand,
  {letter: 'a', r2: aR2, r2Pos: [0.768, 0.861], bands: aBandLabels, plusPos: [0.750, 0.796], minusPos: [0.776, 0.719]},
  {top: 8, right: 19, xh: 37, yw: 57});
makeChart('cb', bPairs, bTicks, bBand,
  {letter: 'b', r2: bR2, r2Pos: [0.0766, 0.1172], bands: bBandLabels, plusPos: [0.0679, 0.0910], minusPos: [0.0816, 0.0538]},
  {top: 8, right: 22, xh: 39, yw: 56});
makeChart('cc', cPairs, cTicks, cBand,
  {letter: 'c', r2: cR2, r2Pos: [0.126, 0.187], bands: cBandLabels, plusPos: [0.106, 0.143], minusPos: [0.128, 0.079]},
  {top: 8, right: 23, xh: 41, yw: 56});
</script>
</body></html>
